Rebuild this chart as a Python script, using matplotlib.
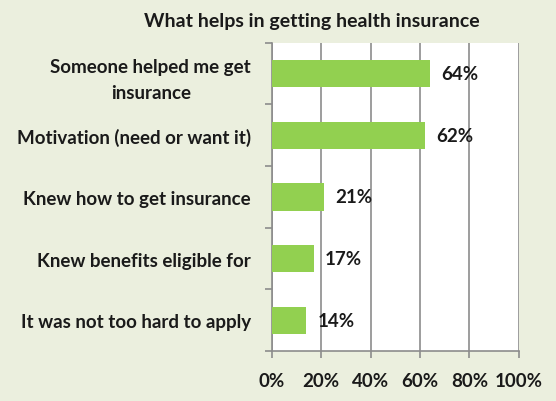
import matplotlib
matplotlib.use("Agg")
import matplotlib.pyplot as plt
from matplotlib.ticker import FuncFormatter

categories = [
    "Someone helped me get\ninsurance",
    "Motivation (need or want it)",
    "Knew how to get insurance",
    "Knew benefits eligible for",
    "It was not too hard to apply",
]
values = [64, 62, 21, 17, 14]
title = "What helps in getting health insurance"

bg = "#EBEFDE"
bar_color = "#92D050"
grid_color = "#8C8C8C"
text_color = "#1A1A1A"
font = "Lato"
fs = 13.5

fig = plt.figure(figsize=(5.56, 4.02), dpi=100, facecolor=bg)
ax = fig.add_axes([0.489, 0.124, 0.444, 0.767])
ax.set_facecolor("white")

pos = list(range(len(categories)))
ax.barh(pos, values, height=0.44, color=bar_color, zorder=3)
ax.set_ylim(len(categories) - 0.5, -0.5)
ax.set_xlim(0, 100)

ax.set_xticks(range(0, 101, 20))
ax.xaxis.set_major_formatter(FuncFormatter(lambda v, _: f"{int(v)}%"))
ax.grid(axis="x", color=grid_color, linewidth=1.2, zorder=0)
ax.set_axisbelow(True)

ax.set_yticks(pos)
ax.set_yticklabels(categories, fontsize=fs, fontweight="bold",
                   family=font, color=text_color, linespacing=1.6,
                   multialignment="center")
ax.set_yticks([p - 0.5 for p in pos] + [len(categories) - 0.5], minor=True)
ax.tick_params(axis="y", which="major", length=0, pad=15)
ax.tick_params(axis="y", which="minor", length=5, width=1.2, color=grid_color)
ax.tick_params(axis="x", length=5, width=1.2, color=grid_color, pad=10)
for lbl in ax.get_xticklabels():
    lbl.set_fontsize(fs)
    lbl.set_fontweight("bold")
    lbl.set_family(font)
    lbl.set_color(text_color)

for side in ("top", "right"):
    ax.spines[side].set_visible(False)
for side in ("left", "bottom"):
    ax.spines[side].set_color(grid_color)
    ax.spines[side].set_linewidth(1.2)

for p, v in zip(pos, values):
    ax.text(v + 4.5, p, f"{v}%", va="center", ha="left", fontsize=fs,
            fontweight="bold", family=font, color=text_color)

fig.text(0.56, 0.947, title, ha="center", va="center", fontsize=14,
         fontweight="bold", family=font, color=text_color)

fig.savefig("out.png", dpi=100, facecolor=bg)
